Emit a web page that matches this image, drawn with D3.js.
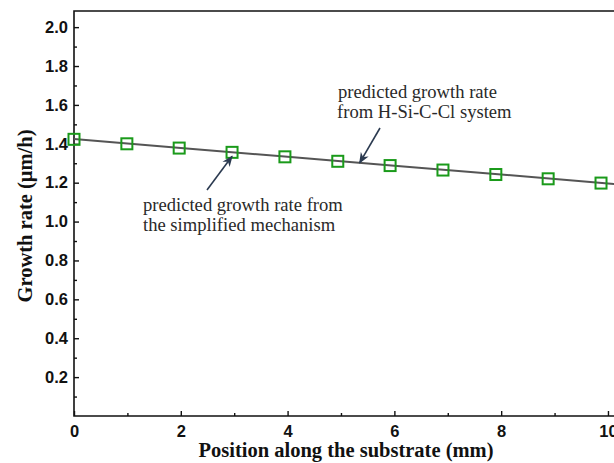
<!DOCTYPE html>
<html>
<head>
<meta charset="utf-8">
<script src="https://cdn.jsdelivr.net/npm/d3@7"></script>
<style>
  html, body { margin: 0; padding: 0; background: #fff; }
  svg { display: block; }
</style>
</head>
<body>
<svg id="chart" width="614" height="463"></svg>
<script>
// Growth rate along the substrate: full H-Si-C-Cl system (line) vs simplified mechanism (squares)
const positionLine = [0, 2, 4, 6, 8, 10, 10.6];
const rateLine = [1.425, 1.379, 1.333, 1.287, 1.242, 1.196, 1.182];

const positionSimplified = [0, 0.99, 1.97, 2.96, 3.95, 4.94, 5.92, 6.91, 7.9, 8.88, 9.87];
const rateSimplified = [1.423, 1.400, 1.378, 1.356, 1.333, 1.310, 1.288, 1.265, 1.242, 1.220, 1.198];

const xTicks = [0, 2, 4, 6, 8, 10];
const xMinorTicks = [1, 3, 5, 7, 9];
const yTicks = [0.2, 0.4, 0.6, 0.8, 1.0, 1.2, 1.4, 1.6, 1.8, 2.0];
const yMinorTicks = [0.1, 0.3, 0.5, 0.7, 0.9, 1.1, 1.3, 1.5, 1.7, 1.9];

const svg = d3.select("#chart");
const plotLeft = 74, plotBottom = 416, plotTop = 11, plotRight = 640;

const x = d3.scaleLinear().domain([0, 10.6]).range([plotLeft, plotRight]);
const y = d3.scaleLinear().domain([0, 2.083]).range([plotBottom, plotTop]);

const tickFont = "'Liberation Sans', Arial, sans-serif";
const serif = "'Liberation Serif', 'Times New Roman', serif";
const ink = "#111";

// frame (top and left); right side runs off the page
svg.append("path")
  .attr("d", `M${plotRight},${plotTop}H${plotLeft}V${plotBottom}H${plotRight}`)
  .attr("fill", "none").attr("stroke", ink).attr("stroke-width", 1.6);

function styleAxis(g, labelled) {
  g.select(".domain").remove();
  g.selectAll("line").attr("stroke", ink).attr("stroke-width", 1.4);
  if (labelled) {
    g.selectAll("text").attr("font-family", tickFont).attr("font-weight", "bold")
      .attr("font-size", 16.5).attr("fill", ink);
  }
}

// x axis, ticks pointing inward
svg.append("g").attr("transform", `translate(0,${plotBottom})`)
  .call(d3.axisBottom(x).tickValues(xTicks).tickSize(-5).tickPadding(9).tickFormat(d3.format("d")))
  .call(g => styleAxis(g, true));
svg.append("g").attr("transform", `translate(0,${plotBottom})`)
  .call(d3.axisBottom(x).tickValues(xMinorTicks).tickSize(-3).tickFormat(""))
  .call(g => styleAxis(g, false));

// y axis, ticks pointing inward
svg.append("g").attr("transform", `translate(${plotLeft},0)`)
  .call(d3.axisLeft(y).tickValues(yTicks).tickSize(-5).tickPadding(6).tickFormat(d3.format(".1f")))
  .call(g => styleAxis(g, true));
svg.append("g").attr("transform", `translate(${plotLeft},0)`)
  .call(d3.axisLeft(y).tickValues(yMinorTicks).tickSize(-3).tickFormat(""))
  .call(g => styleAxis(g, false));

// axis titles
svg.append("text")
  .attr("x", 346).attr("y", 457).attr("text-anchor", "middle")
  .attr("font-family", serif).attr("font-weight", "bold").attr("font-size", 20.5).attr("fill", ink)
  .text("Position along the substrate (mm)");

svg.append("text")
  .attr("transform", "translate(32,216) rotate(-90)").attr("text-anchor", "middle")
  .attr("font-family", serif).attr("font-weight", "bold").attr("font-size", 20.5).attr("fill", ink)
  .text("Growth rate (\u03bcm/h)");

// H-Si-C-Cl system line
const lineGen = d3.line().x(d => x(d[0])).y(d => y(d[1]));
svg.append("path")
  .datum(d3.zip(positionLine, rateLine))
  .attr("d", lineGen)
  .attr("fill", "none").attr("stroke", "#555").attr("stroke-width", 2);

// simplified mechanism squares
const s = 11;
svg.append("g").selectAll("rect")
  .data(d3.zip(positionSimplified, rateSimplified))
  .join("rect")
  .attr("x", d => x(d[0]) - s / 2).attr("y", d => y(d[1]) - s / 2)
  .attr("width", s).attr("height", s)
  .attr("fill", "none").attr("stroke", "#1a9a1a").attr("stroke-width", 2);

// annotations with arrows
const arrowInk = "#2b3a50";
svg.append("defs").append("marker").attr("id", "arrow")
  .attr("viewBox", "0 0 10 10").attr("refX", 9).attr("refY", 5)
  .attr("markerWidth", 7).attr("markerHeight", 7).attr("orient", "auto")
  .append("path").attr("d", "M0,1L10,5L0,9L3,5Z").attr("fill", arrowInk);

function arrow(x1, y1, x2, y2) {
  svg.append("line")
    .attr("x1", x1).attr("y1", y1).attr("x2", x2).attr("y2", y2)
    .attr("stroke", arrowInk).attr("stroke-width", 1.6)
    .attr("marker-end", "url(#arrow)");
}

// pointing at the square at x ≈ 3
arrow(207, 190, x(positionSimplified[3]), y(rateSimplified[3]) + 4);
// pointing at the line near x ≈ 5.35
arrow(380, 128, x(5.35), y(1.302));

const annot = svg.append("g").attr("font-family", serif).attr("font-size", 18.6).attr("fill", "#2a2a2a");
annot.append("text").attr("x", 143).attr("y", 211).text("predicted growth rate from");
annot.append("text").attr("x", 143).attr("y", 231).text("the simplified mechanism");
annot.append("text").attr("x", 338).attr("y", 98).text("predicted growth rate");
annot.append("text").attr("x", 337).attr("y", 118).text("from H-Si-C-Cl system");
</script>
</body>
</html>
